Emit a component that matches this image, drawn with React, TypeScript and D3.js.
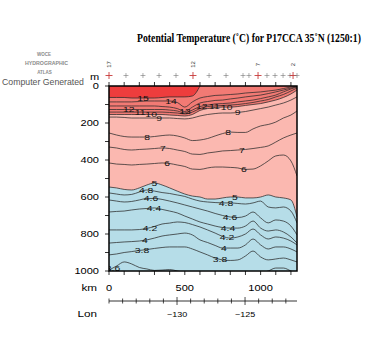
import React, { useLayoutEffect, useRef, useState } from 'react';
import * as d3 from 'd3';

// ---- data ----
// distance grid along section (km)
const DIST = [0, 50, 100, 150, 200, 250, 300, 350, 400, 450, 500, 550, 600, 650, 700, 750, 800, 850, 900, 950, 1000, 1050, 1100, 1150, 1200, 1240];
// isotherm depths (m) at DIST
const DIST15 = [0, 50, 100, 150, 200, 250, 300, 350, 400, 450, 500, 550, 600];
const T15 = [62, 62, 62, 65, 65, 65, 65, 62, 59, 59, 59, 54, 0];
const T14 = [86, 86, 86, 86, 84, 81, 81, 81, 81, 89, 114, 86, 65, 57, 51, 49, 46, 43, 38, 35, 32, 27, 22, 14, 5, 0];
const T13 = [108, 108, 108, 108, 108, 108, 108, 111, 114, 122, 138, 114, 92, 84, 78, 76, 70, 65, 59, 54, 49, 41, 32, 22, 11, 3];
const T12 = [127, 127, 127, 127, 127, 127, 127, 127, 130, 135, 146, 130, 111, 103, 97, 95, 92, 86, 81, 76, 68, 59, 49, 32, 16, 5];
const T11 = [141, 141, 141, 141, 141, 141, 141, 141, 143, 146, 151, 141, 122, 111, 108, 105, 103, 100, 95, 89, 81, 73, 59, 46, 27, 11];
const T10 = [154, 154, 154, 154, 154, 154, 154, 154, 157, 159, 162, 154, 132, 122, 116, 114, 114, 111, 105, 100, 95, 86, 76, 62, 43, 22];
const T9 = [168, 168, 170, 173, 173, 173, 173, 173, 173, 176, 178, 173, 162, 154, 149, 146, 146, 143, 138, 130, 122, 114, 103, 92, 76, 59];
const T8 = [254, 265, 273, 276, 276, 276, 273, 268, 265, 270, 281, 295, 292, 284, 270, 257, 249, 251, 251, 232, 216, 208, 195, 173, 157, 135];
const T7 = [330, 335, 343, 346, 343, 341, 338, 335, 338, 346, 354, 368, 370, 362, 357, 351, 349, 346, 343, 338, 332, 324, 303, 281, 265, 254];
const T6 = [416, 422, 424, 427, 424, 422, 419, 416, 419, 427, 435, 449, 451, 443, 438, 438, 440, 443, 451, 449, 432, 405, 378, 373, 405, 486];
const T5 = [546, 551, 559, 562, 551, 535, 524, 535, 551, 568, 584, 595, 600, 611, 611, 605, 600, 600, 605, 605, 600, 589, 600, 605, 616, 708];
const T48 = [578, 584, 589, 586, 573, 562, 568, 576, 581, 589, 597, 611, 622, 627, 630, 632, 632, 635, 638, 632, 622, 654, 659, 654, 676, 740];
const T46 = [616, 622, 627, 624, 616, 608, 608, 613, 622, 632, 643, 654, 665, 676, 689, 700, 708, 711, 703, 681, 713, 740, 724, 730, 757, 805];
const T44 = [681, 678, 676, 670, 665, 662, 659, 667, 676, 686, 703, 719, 735, 746, 757, 765, 768, 768, 757, 730, 768, 784, 778, 789, 816, 849];
const T42 = [778, 778, 778, 778, 776, 770, 759, 746, 741, 735, 738, 749, 762, 778, 795, 813, 822, 816, 800, 773, 805, 827, 816, 822, 838, 859];
const T40 = [849, 846, 843, 841, 838, 832, 822, 811, 805, 800, 795, 805, 832, 846, 862, 876, 876, 876, 859, 827, 859, 881, 870, 870, 881, 897];
const T38 = [913, 908, 900, 895, 889, 884, 878, 873, 870, 870, 870, 881, 897, 913, 930, 940, 943, 940, 919, 892, 924, 940, 935, 930, 940, 951];
const T36 = [995, 973, 951, 962, 981, 989, 997, 995, 992, 1000, 1011, 1030, 1030, 1030, 1030, 1030, 1030, 1030, 1030, 1030, 1012, 1000, 984, 984, 1000, 1015];

// contour labels: [level text, along-section km]
const LABELS: [string, number][] = [
  ['15', 224], ['14', 409], ['13', 501],
  ['12', 130], ['11', 205], ['10', 278], ['9', 330],
  ['12', 612], ['11', 695], ['10', 776], ['9', 848],
  ['8', 251], ['8', 785], ['7', 356], ['7', 877], ['6', 383], ['6', 890],
  ['5', 300], ['5', 830], ['4.8', 245], ['4.8', 772], ['4.6', 277], ['4.6', 798],
  ['4.4', 297], ['4.4', 785], ['4.2', 270], ['4.2', 778], ['4', 237], ['4', 758],
  ['3.8', 218], ['3.8', 732], ['3.6', 26],
];

const STATION_KM = [0, 112, 224, 330, 442, 554, 660, 772, 884, 923, 983, 1042, 1095, 1148, 1194, 1214, 1240];
const STATION_NUM = [17, 16, 15, 14, 13, 12, 11, 10, 9, 8, 7, 6, 5, 4, 3, 2, 1];
const LABELED_STATIONS = [17, 12, 7, 2];

const DEPTH_TICKS = [0, 200, 400, 600, 800, 1000];
const KM_TICKS = [0, 500, 1000];
const LON_TICKS = [-130, -125];

const TITLE = 'Potential Temperature (˚C) for P17CCA 35˚N (1250:1)';

const COLORS = { cold: '#b6dde8', warm: '#fbb8b0', hot: '#f27a74', hottest: '#ee3d3d' };

const CONTOURS: { level: string; dist: number[]; depth: number[] }[] = [
  { level: '15', dist: DIST15, depth: T15 },
  { level: '14', dist: DIST, depth: T14 },
  { level: '13', dist: DIST, depth: T13 },
  { level: '12', dist: DIST, depth: T12 },
  { level: '11', dist: DIST, depth: T11 },
  { level: '10', dist: DIST, depth: T10 },
  { level: '9', dist: DIST, depth: T9 },
  { level: '8', dist: DIST, depth: T8 },
  { level: '7', dist: DIST, depth: T7 },
  { level: '6', dist: DIST, depth: T6 },
  { level: '5', dist: DIST, depth: T5 },
  { level: '4.8', dist: DIST, depth: T48 },
  { level: '4.6', dist: DIST, depth: T46 },
  { level: '4.4', dist: DIST, depth: T44 },
  { level: '4.2', dist: DIST, depth: T42 },
  { level: '4', dist: DIST, depth: T40 },
  { level: '3.8', dist: DIST, depth: T38 },
  { level: '3.6', dist: DIST, depth: T36 },
];

function FitText({ cx, y, width, children, ...rest }: any) {
  const ref = useRef<SVGTextElement>(null);
  const [sx, setSx] = useState(1);
  useLayoutEffect(() => {
    if (ref.current) {
      const w = ref.current.getComputedTextLength();
      if (w > 0) setSx(width / w);
    }
  }, [width]);
  return (
    <text ref={ref} transform={`translate(${cx},${y}) scale(${sx},1)`} textAnchor="middle" {...rest}>
      {children}
    </text>
  );
}

export default function App() {
  const W = 375, H = 350;
  const left = 109, right = 297, top = 86, bottom = 271;
  const x = d3.scaleLinear().domain([0, 1240]).range([left, right]);
  const y = d3.scaleLinear().domain([0, 1000]).range([top, bottom]);
  const lon = d3.scaleLinear().domain([-135, -121.18]).range([left, right]);
  const curve = d3.curveMonotoneX;

  const linePath = (dist: number[], depth: number[]) =>
    d3.line<number>().x((_, i) => x(dist[i])).y((v) => y(v)).curve(curve)(depth) || '';
  const areaPath = (dist: number[], depth: number[]) =>
    d3.area<number>().x((_, i) => x(dist[i])).y0(y(0)).y1((v) => y(v)).curve(curve)(depth) || '';

  const byLevel = (lv: string) => CONTOURS.find((c) => c.level === lv)!;
  const depthAt = (lv: string, km: number) => {
    const c = byLevel(lv);
    return d3.scaleLinear().domain(c.dist).range(c.depth)(km);
  };

  const sans = 'Liberation Sans, Arial, sans-serif';
  const depthMinor = d3.range(0, 1001, 100);
  const kmMinor = d3.range(0, 1240, 100);
  const lonMinor = d3.range(-135, -121, 1);

  return (
    <svg width={W} height={H} style={{ position: 'absolute', left: 0, top: 0, background: '#fff' }} fontFamily={sans}>
      <rect x={0} y={0} width={W} height={H} fill="#fff" />
      {/* title */}
      <FitText cx={249} y={42} width={224} fontFamily="Liberation Serif, Times New Roman, serif" fontWeight="bold" fontSize={13} fill="#000">
        {TITLE}
      </FitText>
      {/* atlas logo text */}
      <g fill="#8a8a8a" fontWeight="bold" fontSize={4.5} textAnchor="middle">
        <text x={44} y={56}>WOCE</text>
        <text x={46.5} y={65} textLength={43} lengthAdjust="spacingAndGlyphs">HYDROGRAPHIC</text>
        <text x={44.5} y={74}>ATLAS</text>
      </g>
      <FitText cx={43} y={85} width={82} fontSize={9} fill="#555">Computer Generated</FitText>

      <defs>
        <clipPath id="plotclip">
          <rect x={left} y={top} width={right - left} height={bottom - top} />
        </clipPath>
      </defs>

      {/* fills */}
      <g clipPath="url(#plotclip)">
        <rect x={left} y={top} width={right - left} height={bottom - top} fill={COLORS.cold} />
        <path d={areaPath(DIST, T5)} fill={COLORS.warm} />
        <path d={areaPath(DIST, T10)} fill={COLORS.hot} />
        <path d={areaPath(DIST15, T15)} fill={COLORS.hottest} />
        {CONTOURS.map((c) => (
          <path key={c.level} d={linePath(c.dist, c.depth)} fill="none" stroke="#2a2a2a" strokeWidth={0.75} />
        ))}
        {LABELS.map(([lv, km], i) => (
          <text key={i} transform={`translate(${x(km)},${y(depthAt(lv, km))}) scale(1.3,1)`} textAnchor="middle" dy="0.36em" fontSize={8} fill="#111">
            {lv}
          </text>
        ))}
      </g>
      <rect x={left} y={top} width={right - left} height={bottom - top} fill="none" stroke="#000" strokeWidth={1.5} />

      {/* depth axis */}
      {depthMinor.map((v) => (
        <line key={v} x1={left - 4} x2={left} y1={y(v)} y2={y(v)} stroke="#000" strokeWidth={0.8} />
      ))}
      {DEPTH_TICKS.map((v) => (
        <text key={v} transform={`translate(99,${y(v)}) scale(1.3,1)`} textAnchor="end" dy="0.36em" fontSize={8.5} fill="#000">{v}</text>
      ))}
      <text transform="translate(90,76.5) scale(1.3,1)" textAnchor="start" dy="0.36em" fontSize={8.5} fill="#000">m</text>

      {/* top ticks & stations */}
      {kmMinor.map((v) => (
        <line key={v} x1={x(v)} x2={x(v)} y1={top - 4} y2={top} stroke="#000" strokeWidth={0.8} />
      ))}
      {STATION_KM.map((km, i) => {
        const big = LABELED_STATIONS.includes(STATION_NUM[i]);
        const s = big ? 3.5 : 2.5;
        const cx = x(km), cy = 75.5;
        return (
          <g key={i} stroke={big ? '#c83a3a' : '#777'} strokeWidth={big ? 0.9 : 0.6}>
            <line x1={cx - s} x2={cx + s} y1={cy} y2={cy} />
            <line x1={cx} x2={cx} y1={cy - s} y2={cy + s} />
          </g>
        );
      })}
      {STATION_KM.map((km, i) =>
        LABELED_STATIONS.includes(STATION_NUM[i]) ? (
          <text key={'s' + i} transform={`translate(${x(km) + 2},64.5) rotate(-90)`} textAnchor="middle" fontSize={6} fill="#333">
            {STATION_NUM[i]}
          </text>
        ) : null
      )}

      {/* bottom km axis */}
      {kmMinor.map((v) => (
        <line key={v} x1={x(v)} x2={x(v)} y1={bottom} y2={bottom + 4} stroke="#000" strokeWidth={0.8} />
      ))}
      {KM_TICKS.map((v) => (
        <text key={v} transform={`translate(${x(v)},288) scale(1.3,1)`} textAnchor="middle" dy="0.36em" fontSize={8.5} fill="#000">{v}</text>
      ))}
      <text transform="translate(97,288) scale(1.3,1)" textAnchor="end" dy="0.36em" fontSize={9} fill="#000">km</text>

      {/* longitude axis */}
      <line x1={left} x2={right} y1={301} y2={301} stroke="#000" strokeWidth={0.8} />
      {lonMinor.map((v) => (
        <line key={v} x1={lon(v)} x2={lon(v)} y1={LON_TICKS.includes(v) ? 297 : 298.5} y2={LON_TICKS.includes(v) ? 305 : 303.5} stroke="#000" strokeWidth={0.7} />
      ))}
      {LON_TICKS.map((v) => (
        <text key={v} transform={`translate(${lon(v)},314) scale(1.2,1)`} textAnchor="middle" dy="0.36em" fontSize={7.5} fill="#000">{'\u2212' + Math.abs(v)}</text>
      ))}
      <text transform="translate(97,314) scale(1.3,1)" textAnchor="end" dy="0.36em" fontSize={9} fill="#000">Lon</text>
    </svg>
  );
}
